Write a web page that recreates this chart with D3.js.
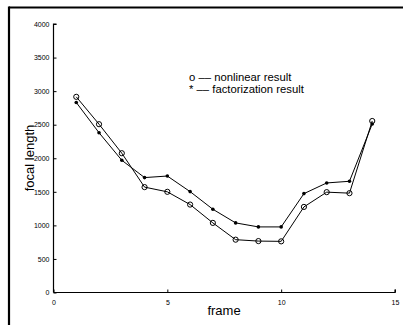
<!DOCTYPE html>
<html>
<head>
<meta charset="utf-8">
<script src="https://cdn.jsdelivr.net/npm/d3@7"></script>
<style>
  body { margin:0; background:#fff; }
  svg text { font-family: "Liberation Sans", Arial, sans-serif; fill:#000; }
</style>
</head>
<body>
<div id="chart"></div>
<script>
var W = 403, H = 325;

// data
var frames = [1,2,3,4,5,6,7,8,9,10,11,12,13,14];
var nonlinear = [2915,2507,2075,1570,1500,1310,1037,787,766,762,1275,1495,1480,2555];
var factorization = [2831,2380,1970,1712,1735,1503,1240,1037,977,977,1473,1632,1657,2510];
var xTicks = [0,5,10,15];
var yTicks = [0,500,1000,1500,2000,2500,3000,3500,4000];
var legendLines = ['o \u2013\u2013 nonlinear result', '* \u2013\u2013 factorization result'];

var svg = d3.select('#chart').append('svg')
  .attr('width', W).attr('height', H);

// outer frame (top and left only)
svg.append('line').attr('x1', 9).attr('x2', W).attr('y1', 7.5).attr('y2', 7.5)
  .attr('stroke', '#000').attr('stroke-width', 2.2);
svg.append('line').attr('x1', 9).attr('x2', 9).attr('y1', 6.5).attr('y2', H)
  .attr('stroke', '#000').attr('stroke-width', 2.2);

var x = d3.scaleLinear().domain([0, 15]).range([53.5, 395]);
var y = d3.scaleLinear().domain([0, 4000]).range([292.5, 24]);

var xAxis = svg.append('g').attr('transform', 'translate(0,' + y(0) + ')')
  .call(d3.axisBottom(x).tickValues(xTicks).tickFormat(d3.format('d')).tickSize(-3).tickPadding(6));
var yAxis = svg.append('g').attr('transform', 'translate(' + x(0) + ',0)')
  .call(d3.axisLeft(y).tickValues(yTicks).tickFormat(d3.format('d')).tickSize(-3).tickPadding(4));

[xAxis, yAxis].forEach(function(a){
  a.select('.domain').attr('stroke', '#000').attr('stroke-width', 1.2);
  a.selectAll('.tick line').attr('stroke', '#000');
  a.selectAll('.tick text').attr('font-size', 7).attr('fill', '#333')
    .attr('font-family', '"Liberation Sans", Arial, sans-serif');
});
yAxis.select('.domain').attr('d', 'M0,' + y(0) + 'V' + y(4000) + 'h3');
xAxis.select('.domain').attr('d', 'M' + x(0) + ',0H' + x(15) + 'v-3');
xAxis.selectAll('.tick text').attr('dy', '0.9em');

var line = d3.line()
  .x(function(d, i){ return x(frames[i]); })
  .y(function(d){ return y(d); });

svg.append('path').datum(nonlinear).attr('d', line)
  .attr('fill', 'none').attr('stroke', '#000').attr('stroke-width', 1);
svg.append('path').datum(factorization).attr('d', line)
  .attr('fill', 'none').attr('stroke', '#000').attr('stroke-width', 1);

svg.append('g').selectAll('circle').data(nonlinear).enter()
  .append('circle')
    .attr('cx', function(d, i){ return x(frames[i]); })
    .attr('cy', function(d){ return y(d); })
    .attr('r', 2.6)
    .attr('fill', 'none').attr('stroke', '#000').attr('stroke-width', 1);

svg.append('g').selectAll('circle').data(factorization).enter()
  .append('circle')
    .attr('cx', function(d, i){ return x(frames[i]); })
    .attr('cy', function(d){ return y(d); })
    .attr('r', 1.8)
    .attr('fill', '#000');

// legend
svg.append('g').selectAll('text').data(legendLines).enter()
  .append('text')
    .attr('x', 189)
    .attr('y', function(d, i){ return 80.5 + i * 12; })
    .attr('font-size', 11.3)
    .text(function(d){ return d; });

// axis labels
svg.append('text')
  .attr('x', 224).attr('y', 315)
  .attr('text-anchor', 'middle').attr('font-size', 13)
  .text('frame');
svg.append('text')
  .attr('transform', 'translate(34,158) rotate(-90)')
  .attr('text-anchor', 'middle').attr('font-size', 13)
  .text('focal length');
</script>
</body>
</html>
